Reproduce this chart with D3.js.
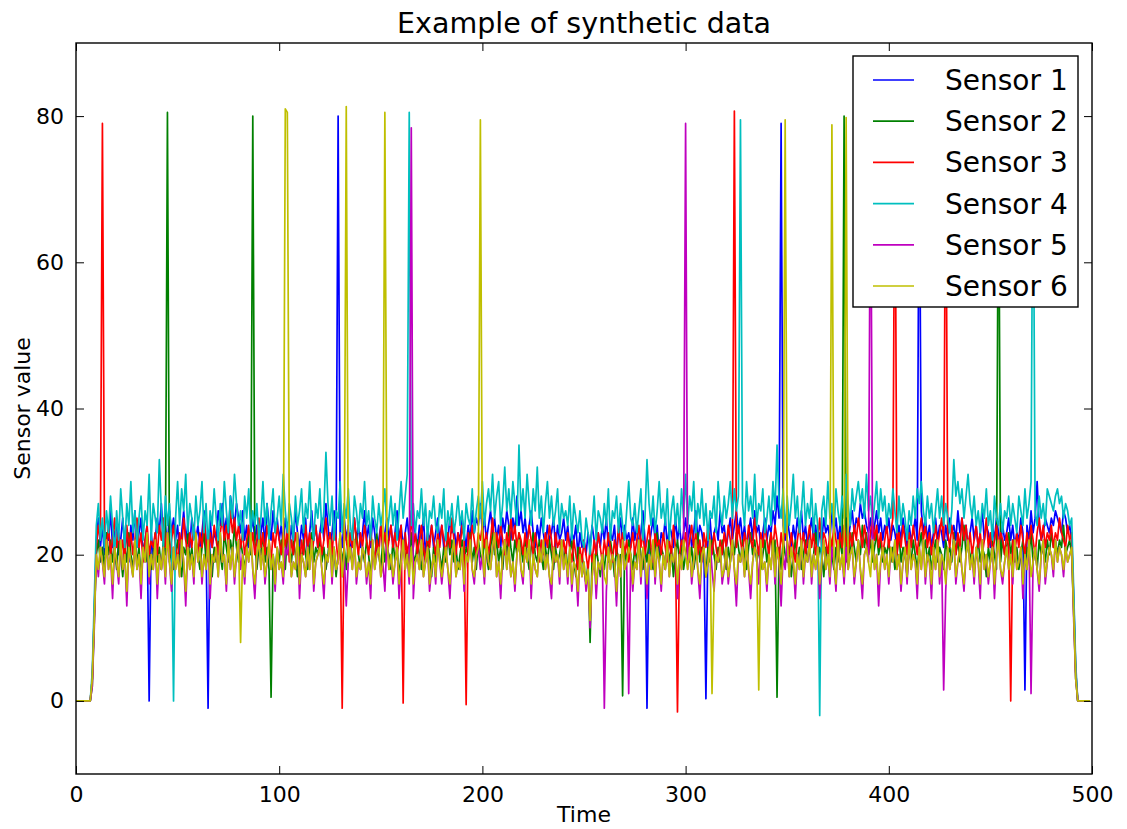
<!DOCTYPE html>
<html lang="en">

<head>
   <meta charset="UTF-8">
   <title>Example of synthetic data</title>
   <script src="https://cdn.jsdelivr.net/npm/d3@7"></script>
   <style>
      body { margin: 0; background: #fff; }
      text { font-family: 'DejaVu Sans', sans-serif; fill: #000; }
   </style>
</head>

<body>
   <script>

      // sensor readings, one value per time step (0..499)
      const sensor1 = [
         0,0,0,0,0,0,0,0,3,12,22,25,21,24,20,23,22,26,21,23,
         24,20,22,25,21,23,19,24,22,26,21,23,25,20,22,24,21,23,20,22,
         25,23,27,22,24,21,26,23,25,22,24,20,23,26,22,24,21,25,23,22,
         24,21,23,26,22,24,25,21,23,22,26,24,27,23,25,22,28,26,24,27,
         25,23,26,22,24,21,23,25,22,24,20,23,25,21,27,24,22,26,23,25,
         22,24,21,25,23,20,24,22,26,23,21,24,22,25,20,23,26,22,24,21,
         23,25,22,27,24,21,23,26,22,24,23,21,25,22,24,20,23,25,22,24,
         21,23,26,22,24,21,25,23,20,22,24,21,23,25,22,24,21,23,26,22,
         24,21,23,25,22,26,24,23,21,24,22,25,20,23,22,24,21,23,25,22,
         24,21,23,22,25,23,24,21,23,22,25,23,21,24,22,26,23,25,24,27,
         23,25,22,24,26,23,25,22,24,21,25,23,26,24,22,25,23,28,24,26,
         23,25,22,24,26,23,21,24,22,25,23,21,24,22,23,25,21,24,22,23,
         25,22,24,21,23,22,24,20,23,21,22,20,23,21,24,22,20,23,21,24,
         22,25,21,23,22,24,20,23,25,21,24,22,23,21,25,22,24,21,23,26,
         22,24,21,23,25,22,24,20,23,22,25,21,24,23,21,25,22,24,21,23,
         25,22,24,21,23,26,22,24,23,21,24,22,25,21,23,24,22,26,23,24,
         21,23,25,22,24,26,23,25,22,24,21,23,25,22,26,23,24,21,23,25,
         22,24,23,26,24,28,25,23,24,22,25,23,21,24,22,25,23,26,22,24,
         21,23,25,22,24,21,23,22,25,23,24,22,26,23,25,22,24,21,23,25,
         22,24,26,23,25,24,27,25,26,24,23,25,22,24,26,23,25,22,24,23,
         25,22,24,23,21,24,22,25,23,21,24,22,23,25,22,24,26,23,25,22,
         24,21,23,25,22,24,23,21,24,22,25,23,24,22,26,23,25,22,24,21,
         23,25,22,24,21,23,26,22,24,23,21,24,22,25,23,21,24,22,23,25,
         22,24,21,23,22,25,23,21,24,22,26,23,25,30,24,22,23,25,24,23,
         25,24,26,25,24,23,26,25,23,24,22,14,4,0,0,0,0,0,0,0
      ];
      const sensor2 = [
         0,0,0,0,0,0,0,0,2,11,20,22,19,21,18,23,20,22,19,21,
         18,22,20,17,21,19,23,20,18,22,19,21,17,20,22,19,21,18,20,23,
         19,21,18,22,20,24,19,21,18,20,22,19,17,21,20,23,19,21,18,22,
         20,18,21,23,19,22,20,17,21,19,22,20,18,23,21,19,22,20,24,21,
         19,22,20,18,21,23,20,19,22,18,21,20,23,19,21,18,22,20,17,21,
         19,22,20,18,23,21,19,22,20,17,21,19,22,20,18,21,23,19,21,20,
         22,19,21,18,20,23,19,21,17,20,22,19,21,18,22,20,19,21,23,20,
         18,21,19,22,20,17,21,19,23,20,18,22,19,21,20,18,22,19,21,17,
         20,22,19,21,18,23,20,19,22,20,18,21,19,22,20,17,21,19,22,20,
         18,21,19,23,20,22,19,21,18,20,22,19,21,20,23,19,21,18,22,20,
         19,22,20,18,21,23,20,22,19,21,18,22,20,24,21,19,22,20,23,21,
         19,22,20,18,21,23,20,19,22,20,18,21,19,22,20,18,21,19,20,22,
         19,21,18,20,22,19,17,21,19,20,18,16,19,17,20,18,21,19,17,20,
         18,21,19,22,20,17,21,19,20,18,21,19,22,20,18,21,19,22,20,18,
         21,19,22,20,18,21,23,19,21,20,18,22,19,21,17,20,22,19,21,18,
         20,22,19,21,18,20,23,19,21,20,17,21,19,22,20,18,21,19,22,20,
         18,21,19,22,20,23,21,19,22,20,18,21,23,20,22,19,21,18,20,22,
         19,21,23,20,22,19,21,18,22,20,19,21,17,20,22,19,21,18,20,22,
         19,21,18,20,23,19,21,20,17,21,19,22,20,18,21,19,22,20,21,19,
         22,20,23,21,19,22,20,24,21,23,20,22,19,21,23,20,22,19,21,20,
         22,19,21,18,20,23,19,21,20,17,21,19,22,20,18,21,23,20,22,19,
         21,18,20,22,19,21,20,18,22,20,21,19,23,20,22,19,21,24,20,22,
         19,21,18,20,22,19,21,20,17,21,19,22,20,18,21,19,22,20,21,23,
         20,22,19,21,18,20,22,19,21,20,23,19,21,18,22,20,21,19,22,20,
         23,21,22,20,22,21,24,20,21,22,20,12,3,0,0,0,0,0,0,0
      ];
      const sensor3 = [
         0,0,0,0,0,0,0,0,3,12,21,24,22,25,23,21,24,20,22,25,
         21,23,20,22,19,24,21,23,20,22,25,21,23,19,22,24,20,22,21,23,
         20,24,22,25,21,23,20,22,24,21,19,23,21,25,22,20,23,21,24,22,
         20,23,21,25,22,19,23,21,24,22,20,23,25,22,24,21,26,23,25,22,
         24,21,23,20,22,24,21,23,20,22,25,21,23,20,24,22,19,23,21,24,
         22,20,23,21,24,19,22,20,23,21,18,22,20,24,21,23,20,22,24,21,
         23,20,22,25,21,23,20,24,22,19,23,21,24,22,20,23,21,25,22,20,
         23,21,24,22,20,23,21,19,22,20,24,21,23,20,22,24,21,23,20,22,
         24,21,23,20,22,25,21,23,20,22,24,21,19,23,21,24,22,20,23,21,
         24,22,20,23,21,25,22,20,23,21,24,22,20,23,21,24,22,20,23,22,
         24,21,23,20,22,25,21,23,21,24,22,20,23,21,25,22,24,21,23,22,
         20,23,21,24,22,20,23,21,19,22,20,23,21,24,22,19,23,21,22,20,
         22,20,23,21,19,22,20,18,21,19,22,20,18,21,19,22,20,23,21,19,
         22,20,23,21,19,22,20,24,21,23,20,22,19,21,23,20,22,24,21,23,
         20,22,24,21,19,23,21,22,20,23,21,19,22,20,24,21,23,20,22,21,
         23,20,22,24,21,23,20,22,19,23,21,24,22,20,23,21,19,22,20,23,
         21,24,22,20,23,21,24,22,20,23,21,24,22,21,25,22,20,23,21,24,
         22,20,23,21,24,22,19,23,21,24,22,20,23,21,19,22,24,21,23,20,
         22,24,21,23,20,22,25,21,23,22,20,23,21,24,22,20,23,21,24,22,
         20,23,21,24,22,25,23,21,24,22,20,23,25,22,24,21,23,20,22,24,
         21,23,25,22,20,23,21,24,22,20,23,21,24,22,20,23,25,22,24,21,
         23,20,22,24,21,23,25,22,20,23,21,24,22,20,23,21,25,22,24,21,
         23,20,22,24,21,23,20,22,25,21,23,20,22,24,21,23,22,20,23,21,
         24,22,20,23,21,24,22,20,23,21,24,22,20,23,25,22,24,21,23,22,
         24,21,23,22,25,23,22,21,24,22,23,13,4,0,0,0,0,0,0,0
      ];
      const sensor4 = [
         0,0,0,0,0,0,0,0,4,14,24,27,22,25,21,26,23,28,24,20,
         26,22,29,25,21,27,24,30,23,26,21,25,28,22,26,24,31,22,27,25,
         23,33,26,21,28,24,27,22,25,25,30,24,29,26,31,23,27,25,22,28,
         24,26,30,23,27,21,26,24,29,25,22,27,24,30,26,23,28,25,31,27,
         24,26,22,28,25,29,23,26,24,27,22,25,30,24,27,22,26,29,23,25,
         28,24,31,26,23,27,25,22,28,24,26,29,23,27,25,30,24,22,27,25,
         29,23,26,34,27,24,28,22,26,25,30,23,27,25,29,24,22,28,26,23,
         27,25,30,24,26,22,28,25,23,27,24,26,29,23,25,28,24,27,22,26,
         30,25,28,31,26,24,27,23,26,25,29,24,27,22,26,25,28,24,23,27,
         25,29,22,26,24,27,23,25,28,24,26,22,27,25,24,29,23,26,28,25,
         30,24,27,29,26,31,25,28,30,24,27,32,26,29,25,30,27,24,35,26,
         29,25,31,27,24,29,26,32,25,28,23,27,30,25,28,24,26,29,23,27,
         25,26,24,28,22,27,25,23,26,22,21,25,23,20,24,28,22,26,25,23,
         27,24,29,22,26,25,28,23,27,24,22,26,30,25,24,27,23,26,29,22,
         25,33,27,24,28,23,26,30,25,27,24,29,22,26,28,24,27,23,29,25,
         31,24,28,26,30,23,27,25,29,24,27,22,26,25,28,23,30,26,24,28,
         25,27,30,25,29,26,28,27,27,24,30,26,28,25,31,24,27,26,29,23,
         25,28,24,30,26,35,27,25,29,23,28,24,27,31,25,28,23,26,30,24,
         27,25,29,23,27,24,25,26,28,24,30,25,27,23,29,26,24,28,25,31,
         27,24,29,26,28,30,27,29,25,31,26,28,24,27,30,25,29,26,28,24,
         27,25,29,26,23,28,24,27,25,22,26,24,28,25,29,27,30,26,24,28,
         25,27,23,26,29,25,28,24,27,25,23,26,33,28,30,27,29,25,28,31,
         27,25,28,24,26,23,27,25,29,24,26,22,28,25,24,27,23,26,25,28,
         24,27,25,23,28,26,24,29,25,27,30,27,26,24,28,25,27,24,29,28,
         27,26,28,29,27,28,25,27,26,24,25,15,5,0,0,0,0,0,0,0
      ];
      const sensor5 = [
         0,0,0,0,0,0,0,0,2,10,20,17,21,19,16,22,18,20,14,21,
         19,16,22,18,20,13,21,19,17,22,18,20,14,21,19,23,16,20,18,22,
         14,20,18,21,16,23,19,15,21,18,20,17,22,19,13,21,18,20,16,23,
         19,21,16,20,18,22,14,20,19,21,17,23,19,20,15,22,18,21,16,20,
         22,18,20,16,21,19,23,18,14,20,22,18,21,16,19,22,18,20,15,21,
         18,19,16,21,20,22,17,19,18,23,14,20,19,17,21,18,22,15,19,20,
         21,18,14,20,19,22,16,21,18,19,23,17,20,13,19,21,18,22,16,19,
         18,21,20,16,19,14,22,18,20,21,17,19,15,22,18,20,16,19,21,14,
         19,22,18,20,16,21,14,19,20,18,22,17,19,21,15,18,20,16,22,19,
         16,19,21,18,14,20,22,17,19,18,21,15,20,19,22,18,16,20,21,18,
         20,16,22,19,18,21,23,17,19,14,20,22,18,21,17,19,15,20,22,18,
         16,21,19,22,14,20,18,17,21,19,22,18,20,17,14,21,19,20,16,22,
         18,20,16,21,15,19,18,13,20,17,19,15,18,10,17,20,14,19,18,20,
         17,15,21,18,20,19,13,20,17,22,18,19,21,20,15,19,18,22,16,21,
         19,14,20,18,22,16,21,19,15,20,18,22,17,20,19,21,14,20,18,22,
         20,18,21,16,19,22,18,14,20,21,17,19,22,18,15,20,19,21,16,18,
         21,16,19,22,18,13,20,19,21,17,22,18,14,19,21,20,16,22,18,19,
         15,20,18,22,16,21,19,13,20,18,22,17,21,19,14,20,18,22,16,20,
         19,22,16,20,18,21,14,19,22,18,20,16,21,19,15,22,18,20,16,21,
         18,20,21,16,19,22,18,14,20,21,19,16,22,18,20,13,19,21,18,20,
         16,21,19,22,18,20,15,19,21,16,22,18,20,19,14,21,18,22,16,20,
         19,14,21,18,22,16,20,19,15,21,18,20,22,16,19,21,18,15,20,22,
         18,20,16,21,19,14,22,18,20,16,19,21,14,20,22,18,16,19,21,18,
         20,16,22,18,19,21,14,20,18,22,16,19,21,18,15,20,22,16,19,21,
         20,17,22,19,21,20,17,21,19,20,21,11,3,0,0,0,0,0,0,0
      ];
      const sensor6 = [
         0,0,0,0,0,0,0,0,3,11,20,18,21,19,17,22,18,20,16,21,
         19,17,22,18,20,15,21,19,17,22,18,20,16,21,19,23,17,20,18,22,
         16,20,18,21,17,23,19,16,21,18,20,17,22,19,15,21,18,20,17,23,
         19,21,17,20,18,22,16,20,19,21,17,23,19,20,16,22,18,21,17,20,
         22,18,20,17,21,19,23,18,16,20,22,18,21,17,19,22,18,20,16,21,
         18,19,17,21,20,22,17,19,18,23,16,20,19,17,21,18,22,16,19,20,
         21,18,16,20,19,22,17,21,18,19,23,17,20,16,19,21,18,22,17,19,
         18,21,20,17,19,16,22,18,20,21,17,19,16,22,18,20,17,19,21,16,
         19,22,18,20,17,21,16,19,20,18,22,17,19,21,16,18,20,17,22,19,
         17,19,21,18,16,20,22,17,19,18,21,16,20,19,22,18,17,20,21,18,
         20,17,22,19,18,21,23,17,19,16,20,22,18,21,17,19,16,20,22,18,
         17,21,19,22,16,20,18,17,21,19,22,18,20,17,16,21,19,20,17,22,
         18,20,17,21,16,19,18,15,20,17,19,16,18,11,17,20,16,19,18,20,
         17,16,21,18,20,19,15,20,17,22,18,19,21,20,16,19,18,22,17,21,
         19,16,20,18,22,17,21,19,16,20,18,22,17,20,19,21,16,20,18,22,
         20,18,21,17,19,22,18,16,20,21,17,19,22,18,16,20,19,21,17,18,
         21,17,19,22,18,16,20,19,21,17,22,18,16,19,21,20,17,22,18,19,
         16,20,18,22,17,21,19,16,20,18,22,17,21,19,16,20,18,22,17,20,
         19,22,17,20,18,21,16,19,22,18,20,17,21,19,16,22,18,20,17,21,
         18,20,21,17,19,22,18,16,20,21,19,17,22,18,20,16,19,21,18,20,
         17,21,19,22,18,20,16,19,21,17,22,18,20,19,16,21,18,22,17,20,
         19,16,21,18,22,17,20,19,16,21,18,20,22,17,19,21,18,16,20,22,
         18,20,17,21,19,16,22,18,20,17,19,21,16,20,22,18,17,19,21,18,
         20,17,22,18,19,21,16,20,18,22,17,19,21,18,16,20,22,17,19,21,
         20,18,22,19,21,20,18,21,19,20,21,12,3,0,0,0,0,0,0,0
      ];

      // isolated glitches: [time, value]
      const spikes1 = [[36, 0], [65, -1], [129, 80], [281, -1], [310, 0.3], [347, 79], [415, 80], [467, 1.5]];
      const spikes2 = [[45, 80.5], [87, 80], [96, 0.5], [253, 8], [269, 0.7], [345, 0.5], [378, 80], [454, 80]];
      const spikes3 = [[13, 79], [131, -1], [161, -0.3], [192, -0.5], [296, -1.5], [324, 80.7], [403, 80], [428, 80], [460, 0]];
      const spikes4 = [[48, 0], [164, 80.5], [327, 79.5], [366, -2], [471, 80]];
      const spikes5 = [[165, 78.4], [260, -1], [272, 1], [300, 79], [391, 80], [427, 1.5], [470, 1]];
      const spikes6 = [[81, 8], [103, 81], [104, 80.5], [133, 81.3], [152, 80.5], [199, 79.5], [313, 1], [336, 1.5], [349, 79.5], [372, 78.8], [379, 79.8]];

      const names = ['Sensor 1', 'Sensor 2', 'Sensor 3', 'Sensor 4', 'Sensor 5', 'Sensor 6'];
      const colors = ['#0000ff', '#008000', '#ff0000', '#00bfbf', '#bf00bf', '#bfbf00'];
      const xTicks = [0, 100, 200, 300, 400, 500];
      const yTicks = [0, 20, 40, 60, 80];

      const raw = [sensor1, sensor2, sensor3, sensor4, sensor5, sensor6];
      const glitches = [spikes1, spikes2, spikes3, spikes4, spikes5, spikes6];

      const series = raw.map((vals, k) => {
         const v = vals.slice();
         glitches[k].forEach(([t, val]) => { v[t] = val; });
         return v.map((val, i) => ({ t: i, v: val }));
      });

      const W = 1127, H = 829;
      const plotL = 76, plotR = 1092, plotT = 43, plotB = 774;

      const svg = d3.select('body').append('svg').attr('width', W).attr('height', H);

      const x = d3.scaleLinear().domain([0, 500]).range([plotL, plotR]);
      const y = d3.scaleLinear().domain([-10, 90]).range([plotB, plotT]);

      svg.append('clipPath').attr('id', 'plot')
         .append('rect').attr('x', plotL).attr('y', plotT).attr('width', plotR - plotL).attr('height', plotB - plotT);

      const line = d3.line().x(d => x(d.t)).y(d => y(d.v));

      const lines = svg.append('g').attr('clip-path', 'url(#plot)');
      series.forEach((s, k) => {
         lines.append('path')
            .datum(s)
            .attr('d', line)
            .attr('fill', 'none')
            .attr('stroke', colors[k])
            .attr('stroke-width', 1.7)
            .attr('stroke-linejoin', 'round');
      });

      // axes, ticks pointing inwards (matplotlib classic)
      const tickLen = 8;
      const styleAxis = g => {
         g.select('.domain').remove();
         g.selectAll('.tick line').attr('stroke', '#000').attr('stroke-width', 1);
         g.selectAll('.tick text').attr('font-size', 22).attr('font-family', 'DejaVu Sans');
      };

      svg.append('g').attr('transform', `translate(0,${plotB})`)
         .call(d3.axisBottom(x).tickValues(xTicks).tickSize(-tickLen).tickPadding(12).tickFormat(d3.format('d')))
         .call(styleAxis);
      svg.append('g').attr('transform', `translate(0,${plotT})`)
         .call(d3.axisTop(x).tickValues(xTicks).tickSize(-tickLen).tickFormat(''))
         .call(styleAxis);
      svg.append('g').attr('transform', `translate(${plotL},0)`)
         .call(d3.axisLeft(y).tickValues(yTicks).tickSize(-tickLen).tickPadding(12).tickFormat(d3.format('d')))
         .call(styleAxis);
      svg.append('g').attr('transform', `translate(${plotR},0)`)
         .call(d3.axisRight(y).tickValues(yTicks).tickSize(-tickLen).tickFormat(''))
         .call(styleAxis);

      svg.append('rect')
         .attr('x', plotL).attr('y', plotT).attr('width', plotR - plotL).attr('height', plotB - plotT)
         .attr('fill', 'none').attr('stroke', '#000').attr('stroke-width', 1.4);

      svg.append('text')
         .attr('x', (plotL + plotR) / 2).attr('y', 33)
         .attr('text-anchor', 'middle').attr('font-size', 28.5)
         .text('Example of synthetic data');

      svg.append('text')
         .attr('x', (plotL + plotR) / 2).attr('y', 822)
         .attr('text-anchor', 'middle').attr('font-size', 22)
         .text('Time');

      svg.append('text')
         .attr('transform', `translate(30,${(plotT + plotB) / 2}) rotate(-90)`)
         .attr('text-anchor', 'middle').attr('font-size', 22)
         .text('Sensor value');

      // legend
      const legend = svg.append('g').attr('transform', 'translate(853,56)');
      legend.append('rect')
         .attr('width', 225).attr('height', 251)
         .attr('fill', '#fff').attr('stroke', '#000').attr('stroke-width', 1.4);

      const items = legend.selectAll('.item')
         .data(names)
         .enter()
         .append('g')
         .attr('class', 'item')
         .attr('transform', (d, i) => `translate(0,${24 + i * 41.2})`);

      items.append('line')
         .attr('x1', 20).attr('x2', 61)
         .attr('stroke', (d, i) => colors[i]).attr('stroke-width', 1.7);

      items.append('text')
         .attr('x', 92).attr('dy', '0.36em')
         .attr('font-size', 28)
         .text(d => d);

   </script>
</body>

</html>
